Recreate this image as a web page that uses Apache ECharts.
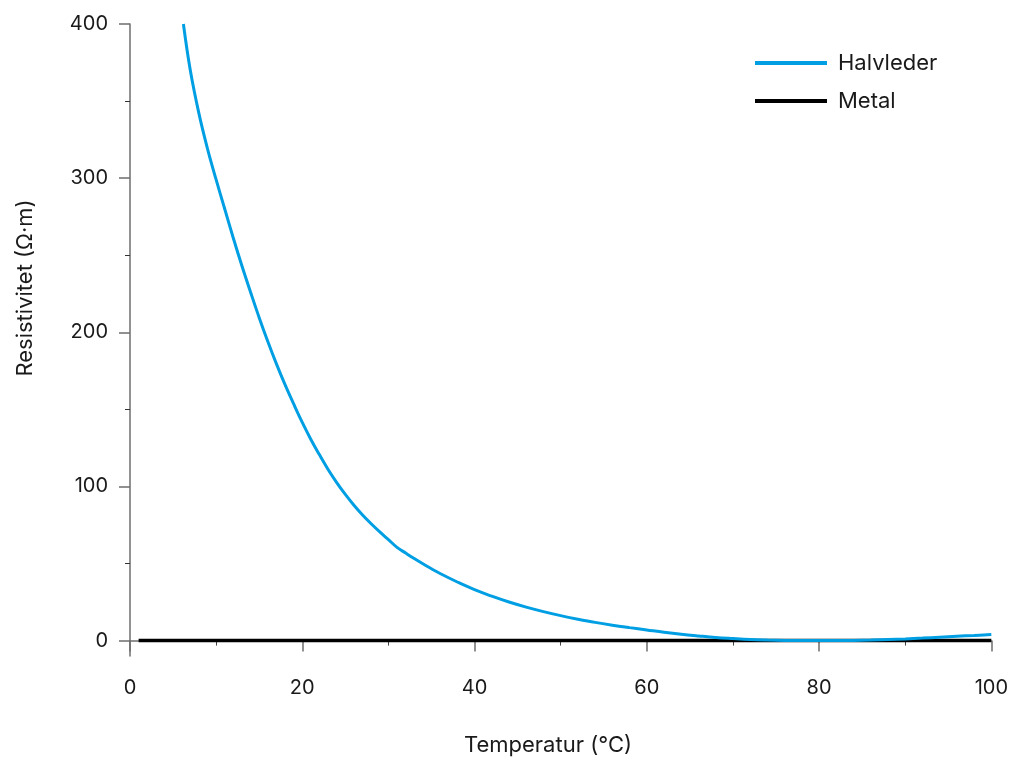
<!DOCTYPE html>
<html>
<head>
<meta charset="utf-8">
<script src="https://cdn.jsdelivr.net/npm/echarts@6/dist/echarts.min.js"></script>
<style>html,body{margin:0;padding:0;background:#fff;}#c{width:1011px;height:758px;}</style>
</head>
<body>
<div id="c"></div>
<script>
const seriesNames = ['Halvleder', 'Metal'];
const xTitle = 'Temperatur (°C)';
const yTitle = 'Resistivitet (Ω·m)';
const yMajorTicks = [0, 100, 200, 300, 400];
const yMinorTicks = [50, 150, 250, 350];
// Halvleder: [temperature, resistivity]
const halvlederX = [6.2, 7, 8, 9, 10, 11, 12, 13, 14, 15, 16, 17, 18, 19, 20, 21, 22, 23, 24, 25, 26, 27, 28, 29, 30, 31, 32, 33, 34, 35, 36, 38, 40, 42, 44, 46, 48, 50, 52, 54, 56, 58, 60, 62, 64, 66, 68, 70, 72, 74, 76, 78, 80, 82, 84, 86, 88, 90, 92, 94, 96, 98, 100];
const halvlederY = [400, 370, 342, 319, 299, 280, 261, 243, 226, 209.5, 194, 179.5, 166, 153.5, 141.5, 130.5, 120.5, 111, 102.5, 94.8, 87.8, 81.5, 75.8, 70.5, 65.5, 60.5, 56.8, 53.2, 49.8, 46.6, 43.5, 38, 33, 28.8, 25, 21.7, 18.8, 16.2, 13.9, 11.8, 10, 8.4, 6.9, 5.4, 4.1, 3, 2, 1.3, 0.7, 0.35, 0.12, 0.02, 0, 0, 0.1, 0.35, 0.7, 1.1, 1.6, 2.2, 2.8, 3.35, 3.9];
// Metal
const metalX = [1, 100];
const metalY = [0, 0];

const FONT = 'Inter';
const chart = echarts.init(document.getElementById('c'));
const pair = (xs, ys) => xs.map((x, i) => [x, ys[i]]);
const axisGrey = '#6e6e6e';
const textCol = '#1a1a1a';

chart.setOption({
  animation: false,
  textStyle: { fontFamily: FONT },
  grid: { left: 130, right: 19, top: 24, bottom: 102 },
  legend: {
    orient: 'vertical', left: 755, top: 52, itemGap: 16, padding: 0,
    itemWidth: 72, itemHeight: 4, icon: 'rect',
    data: seriesNames,
    textStyle: { fontFamily: FONT, fontSize: 22, color: textCol, padding: [0, 0, 0, 6] }
  },
  xAxis: {
    type: 'value', min: 0, max: 100, interval: 20,
    axisLine: { lineStyle: { color: axisGrey, width: 1.5 } },
    axisTick: { length: 11, lineStyle: { color: axisGrey, width: 1.5 } },
    minorTick: { show: true, splitNumber: 2, length: 5, lineStyle: { color: '#444', width: 1 } },
    splitLine: { show: false },
    axisLabel: { margin: 22, fontSize: 20, color: textCol, fontFamily: FONT }
  },
  yAxis: [{
    type: 'value', min: -10, max: 400,
    axisLine: { show: true, lineStyle: { color: axisGrey, width: 1.5 } },
    axisTick: { show: true, length: 11, customValues: yMajorTicks, lineStyle: { color: axisGrey, width: 1.5 } },
    splitLine: { show: false },
    axisLabel: { margin: 22, fontSize: 20, color: textCol, fontFamily: FONT, customValues: yMajorTicks }
  }, {
    type: 'value', min: -10, max: 400, position: 'left',
    axisLine: { show: false },
    axisTick: { show: true, length: 5, customValues: yMinorTicks, lineStyle: { color: '#333', width: 1 } },
    splitLine: { show: false },
    axisLabel: { show: false }
  }],
  graphic: [
    { type: 'text', x: 548, y: 745, style: { text: xTitle, font: '22px ' + FONT, fill: textCol, textAlign: 'center', textVerticalAlign: 'middle' } },
    { type: 'text', x: 25, y: 288, rotation: Math.PI / 2, style: { text: yTitle, font: '22px ' + FONT, fill: textCol, textAlign: 'center', textVerticalAlign: 'middle' } }
  ],
  series: [
    { name: 'Metal', type: 'line', data: pair(metalX, metalY), showSymbol: false, symbol: 'none', lineStyle: { color: '#000', width: 3.5 }, itemStyle: { color: '#000' }, z: 2 },
    { name: 'Halvleder', type: 'line', data: pair(halvlederX, halvlederY), showSymbol: false, symbol: 'none', smooth: 0.4, lineStyle: { color: '#009FE3', width: 3 }, itemStyle: { color: '#009FE3' }, z: 3 }
  ]
});
</script>
</body>
</html>
